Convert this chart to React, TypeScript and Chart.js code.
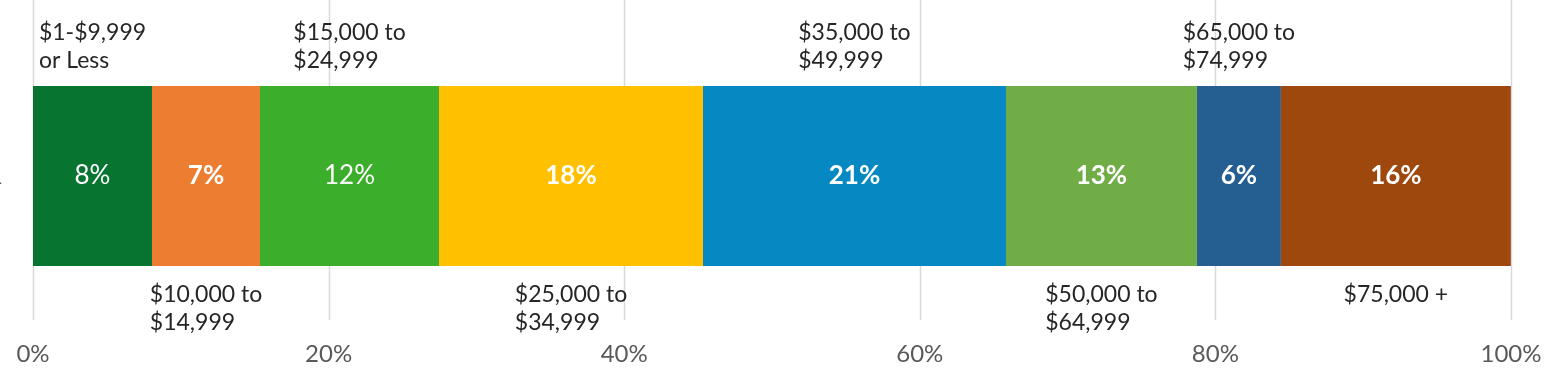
import React, { useEffect, useRef } from "react";
import { Chart, registerables } from "chart.js";

Chart.register(...registerables);

// ---- data ----
const categories = ["1"];
const segmentNames = [
  "$1-$9,999\nor Less",
  "$10,000 to\n$14,999",
  "$15,000 to\n$24,999",
  "$25,000 to\n$34,999",
  "$35,000 to\n$49,999",
  "$50,000 to\n$64,999",
  "$65,000 to\n$74,999",
  "$75,000 +",
];
const segmentValues = [8.05, 7.31, 12.11, 17.86, 20.5, 12.92, 5.68, 15.56];
const xTickValues = [0, 20, 40, 60, 80, 100];

// ---- styles ----
const segmentColors = [
  "#077430",
  "#ED7D31",
  "#3BAE2C",
  "#FFC000",
  "#0689C2",
  "#70AD47",
  "#255E91",
  "#9E480E",
];
const nameAbove = [true, false, true, false, true, false, true, false];
const valueBold = [false, true, false, true, true, true, true, true];
const FONT = "Lato, 'Open Sans', sans-serif";

const overlayPlugin = {
  id: "overlay",
  beforeDatasetsDraw(chart: any) {
    const { ctx, chartArea, scales } = chart;
    const x = scales.x;
    ctx.save();
    ctx.strokeStyle = "#D9D9D9";
    ctx.lineWidth = 1.5;
    xTickValues.forEach((v) => {
      const px = Math.round(x.getPixelForValue(v)) + 0.5;
      ctx.beginPath();
      ctx.moveTo(px, 0);
      ctx.lineTo(px, chartArea.bottom);
      ctx.stroke();
    });
    ctx.restore();
  },
  afterDatasetsDraw(chart: any) {
    const { ctx } = chart;
    ctx.save();
    ctx.textBaseline = "middle";
    chart.data.datasets.forEach((ds: any, i: number) => {
      const meta = chart.getDatasetMeta(i);
      meta.data.forEach((el: any) => {
        const { x, y, base, height } = el.getProps(["x", "y", "base", "height"], true);
        const cx = (x + base) / 2;
        // value label
        ctx.textAlign = "center";
        ctx.fillStyle = "#FFFFFF";
        ctx.font = `${valueBold[i] ? "bold " : ""}26px ${FONT}`;
        ctx.fillText(`${Math.round(ds.data[0])}%`, cx, y);
        // name label
        const lines = segmentNames[i].split("\n");
        ctx.font = `23px ${FONT}`;
        ctx.fillStyle = "#262626";
        const w = Math.max(...lines.map((l) => ctx.measureText(l).width));
        const left = cx - w / 2;
        ctx.textAlign = "left";
        const top = y - height / 2;
        const bottom = y + height / 2;
        lines.forEach((l, k) => {
          let ly: number;
          if (nameAbove[i]) {
            ly = top - 25 - (lines.length - 1 - k) * 28;
          } else {
            ly = bottom + 29 + k * 28;
          }
          ctx.fillText(l, left, ly);
        });
      });
    });
    ctx.restore();
  },
};

export default function App() {
  const ref = useRef<HTMLCanvasElement | null>(null);
  useEffect(() => {
    if (!ref.current) return;
    const chart = new Chart(ref.current, {
      type: "bar",
      data: {
        labels: categories,
        datasets: segmentValues.map((v, i) => ({
          label: segmentNames[i].replace("\n", " "),
          data: [v],
          backgroundColor: segmentColors[i],
          borderWidth: 0,
          categoryPercentage: 0.625,
          barPercentage: 1,
        })),
      },
      options: {
        indexAxis: "y",
        responsive: false,
        animation: false,
        layout: { padding: { top: 32, right: 42, bottom: 0, left: 0 } },
        plugins: {
          legend: { display: false },
          tooltip: { enabled: false },
        },
        scales: {
          x: {
            type: "linear",
            stacked: true,
            min: 0,
            max: 100,
            afterBuildTicks: (s: any) => {
              s.ticks = xTickValues.map((v) => ({ value: v }));
            },
            afterFit: (s: any) => {
              s.height = 59;
              s.paddingLeft = 0;
              s.paddingRight = 0;
            },
            ticks: {
              callback: (v: any) => `${v}%`,
              font: { family: FONT, size: 24 },
              color: "#595959",
              padding: 12,
            },
            grid: { display: false },
            border: { display: false },
          },
          y: {
            type: "category",
            stacked: true,
            afterFit: (s: any) => {
              s.width = 40;
              s.paddingTop = 0;
              s.paddingBottom = 0;
            },
            ticks: {
              font: { family: FONT, size: 24 },
              color: "#595959",
              padding: 22,
            },
            grid: { display: false },
            border: { display: false },
          },
        },
      },
      plugins: [overlayPlugin],
    });
    return () => chart.destroy();
  }, []);
  return (
    <div style={{ position: "absolute", left: -7, top: 0, width: 1560, height: 379 }}>
      <canvas ref={ref} width={1560} height={379} style={{ display: "block" }} />
    </div>
  );
}
